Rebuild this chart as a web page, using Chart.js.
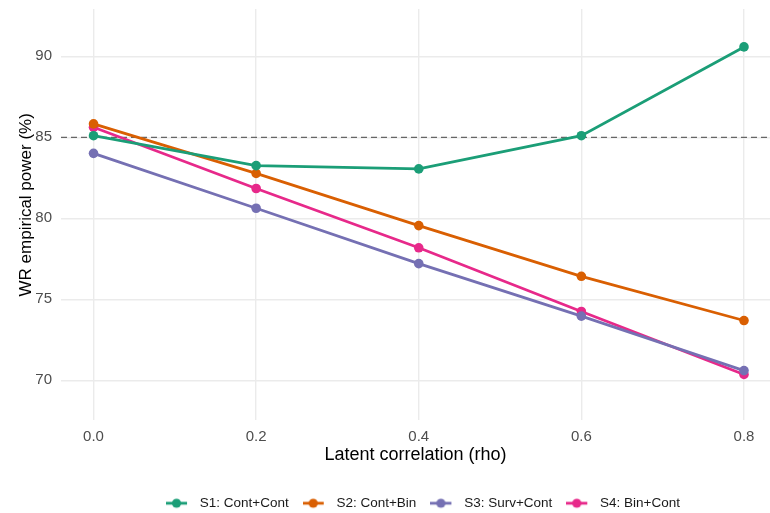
<!DOCTYPE html>
<html>
<head>
<meta charset="utf-8">
<script src="https://cdn.jsdelivr.net/npm/chart.js@4.4.1/dist/chart.umd.min.js"></script>
<style>
  html, body { margin: 0; padding: 0; background: #fff; }
  #wrap { width: 770px; height: 513px; }
</style>
</head>
<body>
<div id="wrap"><canvas id="powerChart"></canvas></div>
<script>
// --- data ---
const rho = [0.0, 0.2, 0.4, 0.6, 0.8];
const seriesNames = ['S1: Cont+Cont', 'S2: Cont+Bin', 'S3: Surv+Cont', 'S4: Bin+Cont'];
const s1Power = [85.10, 83.25, 83.05, 85.10, 90.58];
const s2Power = [85.83, 82.77, 79.55, 76.42, 73.69];
const s3Power = [84.01, 80.62, 77.20, 73.96, 70.60];
const s4Power = [85.62, 81.84, 78.18, 74.25, 70.36];
const xTicks = [0.0, 0.2, 0.4, 0.6, 0.8];
const yTicks = [70, 75, 80, 85, 90];
const targetPower = 85;

// Dark2 palette
const palette = ['#1B9E77', '#D95F02', '#7570B3', '#E7298A'];
const FONT = "'Liberation Sans', Arial, sans-serif";

// ggplot 風格的圖例鍵：線 + 點
function legendKey(color) {
    const c = document.createElement('canvas');
    c.width = 27; c.height = 12;
    const g = c.getContext('2d');
    g.strokeStyle = color;
    g.lineWidth = 2.8;
    g.beginPath(); g.moveTo(0, 6); g.lineTo(21, 6); g.stroke();
    g.fillStyle = color;
    g.beginPath(); g.arc(10.5, 6, 4.6, 0, Math.PI * 2); g.fill();
    return c;
}

const allSeries = [s1Power, s2Power, s3Power, s4Power];
const datasets = allSeries.map((vals, i) => ({
    label: seriesNames[i],
    data: rho.map((r, j) => ({ x: r, y: vals[j] })),
    borderColor: palette[i],
    backgroundColor: palette[i],
    borderWidth: 2.8,
    pointRadius: 4.8,
    pointHoverRadius: 4.8,
    pointBorderWidth: 0,
    tension: 0
}));

// 85% 參考虛線
const refLinePlugin = {
    id: 'refLine',
    beforeDatasetsDraw(chart) {
        const { ctx, chartArea, scales } = chart;
        const y = scales.y.getPixelForValue(targetPower);
        ctx.save();
        ctx.strokeStyle = '#666666';
        ctx.lineWidth = 1.2;
        ctx.setLineDash([6, 4]);
        ctx.beginPath();
        ctx.moveTo(chartArea.left, y);
        ctx.lineTo(chartArea.right, y);
        ctx.stroke();
        ctx.restore();
    }
};

// 圖例位置微調 (ggplot 的圖例不在畫布正中)
const legendShift = { dx: 38, dy: 13 };
const legendShiftPlugin = {
    id: 'legendShift',
    afterLayout(chart) {
        const lg = chart.legend;
        if (!lg) return;
        lg.left += legendShift.dx; lg.right += legendShift.dx;
        lg.top += legendShift.dy; lg.bottom += legendShift.dy;
    }
};

new Chart(document.getElementById('powerChart'), {
    type: 'line',
    data: { datasets },
    plugins: [refLinePlugin, legendShiftPlugin],
    options: {
        responsive: true,
        maintainAspectRatio: false,
        animation: false,
        layout: { autoPadding: false, padding: { top: 9, right: 0, left: 0, bottom: 6 } },
        scales: {
            x: {
                type: 'linear',
                bounds: 'data',
                min: -0.04,
                max: 0.832,
                afterBuildTicks: axis => { axis.ticks = xTicks.map(v => ({ value: v })); },
                afterFit: axis => {
                    axis.height = 50;
                    axis.paddingLeft = 0;
                    axis.paddingRight = 0;
                },
                grid: { color: '#ebebeb', lineWidth: 1.4, drawTicks: false },
                border: { display: false },
                ticks: {
                    color: '#4d4d4d',
                    font: { family: FONT, size: 15 },
                    padding: 8,
                    callback: v => v.toFixed(1)
                },
                title: {
                    display: true,
                    text: 'Latent correlation (rho)',
                    color: '#000',
                    font: { family: FONT, size: 18 },
                    padding: { top: 0, bottom: 4 }
                }
            },
            y: {
                bounds: 'data',
                min: 67.58,
                max: 92.92,
                afterBuildTicks: axis => { axis.ticks = yTicks.map(v => ({ value: v })); },
                afterFit: axis => {
                    axis.width = 61;
                    axis.paddingTop = 0;
                    axis.paddingBottom = 0;
                },
                grid: { color: '#ebebeb', lineWidth: 1.4, drawTicks: false },
                border: { display: false },
                ticks: {
                    color: '#4d4d4d',
                    font: { family: FONT, size: 15 },
                    padding: 9
                },
                title: {
                    display: true,
                    text: '    WR empirical power (%)',
                    color: '#000',
                    font: { family: FONT, size: 17 },
                    padding: { top: 16, bottom: 0 }
                }
            }
        },
        plugins: {
            legend: {
                position: 'bottom',
                labels: {
                    usePointStyle: true,
                    pointStyleWidth: 27,
                    padding: 14,
                    color: '#1a1a1a',
                    font: { family: FONT, size: 13.5 },
                    generateLabels: chart => chart.data.datasets.map((ds, i) => ({
                        text: ds.label,
                        pointStyle: legendKey(ds.borderColor),
                        fillStyle: ds.borderColor,
                        strokeStyle: ds.borderColor,
                        lineWidth: 0,
                        fontColor: '#1a1a1a',
                        hidden: false,
                        datasetIndex: i
                    }))
                }
            },
            tooltip: { enabled: false }
        }
    }
});
</script>
</body>
</html>
